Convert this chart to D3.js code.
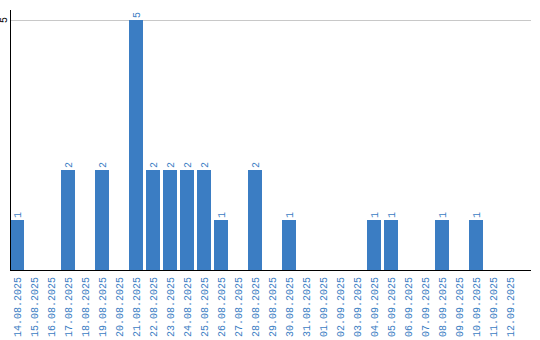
<!DOCTYPE html>
<html>
<head>
<meta charset="utf-8">
<script src="https://cdn.jsdelivr.net/npm/d3@7"></script>
<style>
  body { margin: 0; background: #fff; }
  svg text { font-family: "Liberation Mono", monospace; }
</style>
</head>
<body>
<div id="chart"></div>
<script>
const dates = ["14.08.2025", "15.08.2025", "16.08.2025", "17.08.2025", "18.08.2025", "19.08.2025",
  "20.08.2025", "21.08.2025", "22.08.2025", "23.08.2025", "24.08.2025", "25.08.2025", "26.08.2025",
  "27.08.2025", "28.08.2025", "29.08.2025", "30.08.2025", "31.08.2025", "01.09.2025", "02.09.2025",
  "03.09.2025", "04.09.2025", "05.09.2025", "06.09.2025", "07.09.2025", "08.09.2025", "09.09.2025",
  "10.09.2025", "11.09.2025", "12.09.2025"];
const counts = [1, 0, 0, 2, 0, 2, 0, 5, 2, 2, 2, 2, 1, 0, 2, 0, 1, 0, 0, 0, 0, 1, 1, 0, 0, 1, 0, 1, 0, 0];
const yTicks = [5];

const w = 540, h = 340;
const padLeft = 10, padRight = 531, padTop = 20, base = 270;
const blue = "#3b7dc3";

const data = dates.map((d, i) => ({ date: d, value: counts[i] }));

const x = d3.scaleBand()
  .domain(dates)
  .range([padLeft, padLeft + 17 * (dates.length - 3 / 17)])
  .paddingInner(3 / 17)
  .paddingOuter(0);

const y = d3.scaleLinear()
  .domain([0, 5])
  .range([base, padTop]);

const svg = d3.select("#chart").append("svg")
  .attr("width", w)
  .attr("height", h);

// grid
svg.selectAll("line.grid")
  .data(yTicks)
  .enter()
  .append("line")
  .attr("class", "grid")
  .attr("x1", padLeft)
  .attr("x2", padRight)
  .attr("y1", d => y(d) + 0.5)
  .attr("y2", d => y(d) + 0.5)
  .attr("stroke", "#c8c8c8")
  .attr("stroke-width", 1);

// bars
svg.selectAll("rect")
  .data(data.filter(d => d.value > 0))
  .enter()
  .append("rect")
  .attr("x", d => x(d.date))
  .attr("y", d => y(d.value))
  .attr("width", x.bandwidth())
  .attr("height", d => base - y(d.value))
  .attr("fill", blue);

// value labels
svg.selectAll("text.val")
  .data(data.filter(d => d.value > 0))
  .enter()
  .append("text")
  .attr("class", "val")
  .attr("transform", d => "translate(" + (x(d.date) + x.bandwidth() / 2 + 3.5) + "," + (y(d.value) - 2) + ") rotate(-90)")
  .attr("font-size", 10)
  .attr("fill", blue)
  .text(d => d.value);

// x labels
svg.selectAll("text.xl")
  .data(dates)
  .enter()
  .append("text")
  .attr("class", "xl")
  .attr("transform", d => "translate(" + (x(d) + x.bandwidth() / 2 + 3.5) + "," + (base + 7) + ") rotate(-90)")
  .attr("text-anchor", "end")
  .attr("font-size", 10)
  .attr("fill", blue)
  .text(d => d);

// y tick labels
svg.selectAll("text.yl")
  .data(yTicks)
  .enter()
  .append("text")
  .attr("class", "yl")
  .attr("transform", d => "translate(" + 7 + "," + y(d) + ") rotate(-90)")
  .attr("text-anchor", "middle")
  .attr("font-size", 10)
  .attr("fill", "#000")
  .text(d => d);

// axes
svg.append("line")
  .attr("x1", padLeft + 0.5).attr("x2", padLeft + 0.5)
  .attr("y1", 10).attr("y2", base)
  .attr("stroke", "#000");
svg.append("line")
  .attr("x1", padLeft).attr("x2", padRight)
  .attr("y1", base + 0.5).attr("y2", base + 0.5)
  .attr("stroke", "#000");
</script>
</body>
</html>
